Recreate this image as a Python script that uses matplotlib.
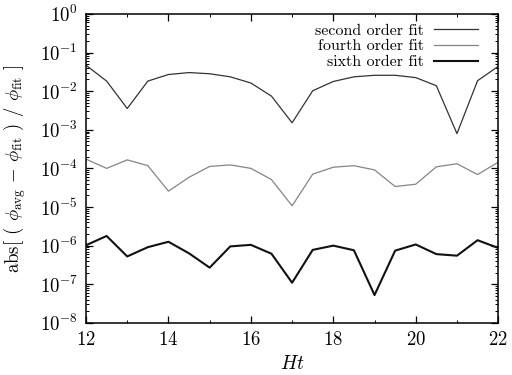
import matplotlib
matplotlib.use("Agg")
import matplotlib.pyplot as plt
import numpy as np
from matplotlib.ticker import MultipleLocator, LogLocator, NullFormatter

plt.rcParams['font.family'] = ['cmr10', 'DejaVu Serif']
plt.rcParams['mathtext.fontset'] = 'cm'
plt.rcParams['axes.unicode_minus'] = False
plt.rcParams['axes.formatter.use_mathtext'] = True

ht = [12.0, 12.5, 13.0, 13.5, 14.0, 14.5, 15.0, 15.5, 16.0, 16.5, 17.0,
      17.5, 18.0, 18.5, 19.0, 19.5, 20.0, 20.5, 21.0, 21.5, 22.0]

# log10 of the relative error
log_second = [-1.33, -1.74, -2.45, -1.74, -1.57, -1.52, -1.55, -1.63, -1.79, -2.13, -2.82,
              -1.99, -1.75, -1.63, -1.59, -1.59, -1.65, -1.86, -3.10, -1.73, -1.36]
log_fourth = [-3.76, -4.00, -3.78, -3.93, -4.59, -4.23, -3.95, -3.91, -4.00, -4.29, -4.97,
              -4.15, -3.97, -3.93, -4.04, -4.47, -4.41, -3.96, -3.88, -4.16, -3.84]
log_sixth = [-5.99, -5.75, -6.28, -6.04, -5.90, -6.20, -6.57, -6.02, -5.98, -6.21, -6.96,
             -6.11, -6.00, -6.12, -7.28, -6.13, -5.97, -6.22, -6.26, -5.86, -6.06]

fig = plt.figure(figsize=(5.12, 3.75), dpi=100)
ax = fig.add_axes([0.168, 0.139, 0.805, 0.824])

ax.plot(ht, 10 ** np.array(log_second), color='#333333', lw=0.9, label='second order fit')
ax.plot(ht, 10 ** np.array(log_fourth), color='#858585', lw=0.9, label='fourth order fit')
ax.plot(ht, 10 ** np.array(log_sixth), color='#111111', lw=1.5, label='sixth order fit')

ax.set_yscale('log')
ax.set_xlim(12, 22)
ax.set_ylim(1e-8, 1e0)
ax.xaxis.set_major_locator(MultipleLocator(2))
ax.xaxis.set_minor_locator(MultipleLocator(1))
ax.yaxis.set_major_locator(LogLocator(base=10, numticks=20))
ax.yaxis.set_minor_locator(LogLocator(base=10, subs=np.arange(2, 10), numticks=20))
ax.yaxis.set_minor_formatter(NullFormatter())

ax.tick_params(which='both', direction='in', top=True, right=True, labelsize=13.5, pad=6)
ax.tick_params(which='major', length=5, width=0.9)
ax.tick_params(which='minor', length=2.5, width=0.7)
for s in ax.spines.values():
    s.set_linewidth(1.1)

ax.set_xlabel(r'$Ht$', fontsize=14)
ax.set_ylabel(r'abs[ ( $\phi_{\rm avg}$ $-$ $\phi_{\rm fit}$ ) / $\phi_{\rm fit}$ ]', fontsize=13.5,
              labelpad=8)

leg = ax.legend(loc='upper right', frameon=False, markerfirst=False, fontsize=11.5,
                handlelength=2.8, handletextpad=0.6, labelspacing=0.1,
                borderaxespad=0.2, bbox_to_anchor=(0.975, 1.0))
for t in leg.get_texts():
    t.set_ha('right')

fig.savefig('out.png', dpi=100)
